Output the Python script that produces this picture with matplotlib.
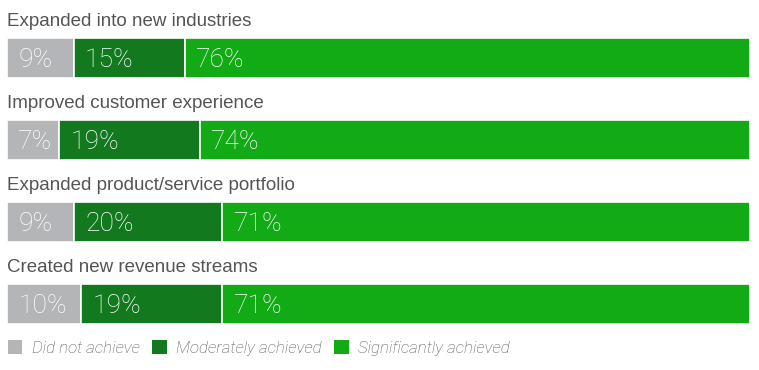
import matplotlib
matplotlib.use("Agg")
import matplotlib.pyplot as plt
from matplotlib.patches import Patch

categories = ["Expanded into new industries", "Improved customer experience",
              "Expanded product/service portfolio", "Created new revenue streams"]
did_not = [9, 7, 9, 10]
moderate = [15, 19, 20, 19]
significant = [76, 74, 71, 71]
series_names = ["Did not achieve", "Moderately achieved", "Significantly achieved"]
colors = ["#b4b5b7", "#13791f", "#12aa15"]

W, H = 759, 370
fig = plt.figure(figsize=(W / 100, H / 100), dpi=100)
ax = fig.add_axes([7 / W, 0, 743 / W, 1])
unit = 82.0
ax.set_ylim((H - 58) / unit, -58 / unit)
ax.set_xlim(0, 100)
ax.axis("off")

fam = ["Liberation Sans", "DejaVu Sans"]
lfam = ["Roboto", "DejaVu Sans"]
bar_h = 40 / unit
y = list(range(len(categories)))
left = [0] * len(categories)
for vals, col in zip([did_not, moderate, significant], colors):
    ax.barh(y, vals, left=left, height=bar_h, color=col, edgecolor="white", linewidth=1.2)
    for i, v in enumerate(vals):
        ax.text(left[i] + 1.5, i + 0.02, f"{v}%", color="white", fontsize=19,
                family=lfam, fontweight="light", va="center", ha="left")
    left = [l + v for l, v in zip(left, vals)]

for i, c in enumerate(categories):
    ax.text(0, i - 0.39, c, color="#555555", fontsize=13.5, family=fam,
            va="baseline", ha="left")

handles = [Patch(facecolor=c, edgecolor="none") for c in colors]
leg = fig.legend(handles, series_names, loc="center left", bbox_to_anchor=(8 / W, 1 - 348 / H),
                 ncol=3, frameon=False, handlelength=0.85, handleheight=0.85,
                 handletextpad=0.55, columnspacing=0.75, borderpad=0, borderaxespad=0,
                 prop={"family": lfam, "style": "italic", "size": 12.2, "weight": "light"})
for t in leg.get_texts():
    t.set_color("#555555")

fig.savefig("out.png", dpi=100)
